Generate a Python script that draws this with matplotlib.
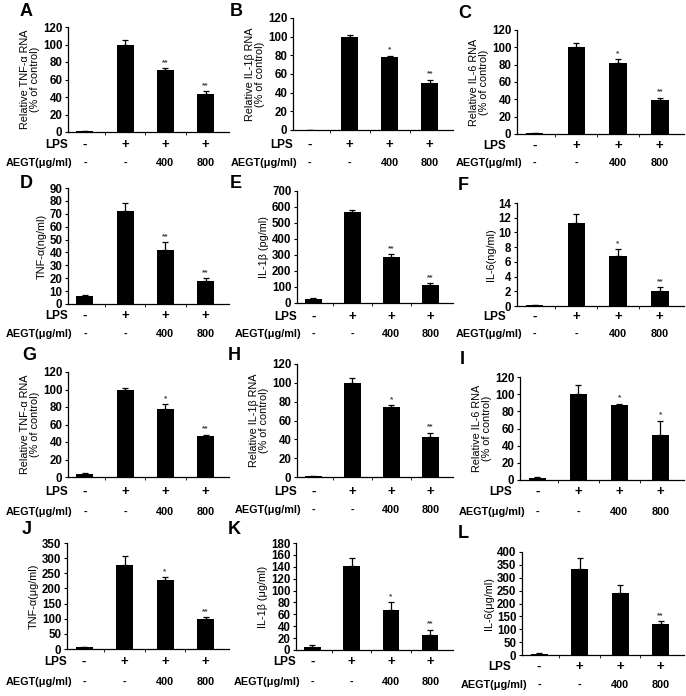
import numpy as np
import matplotlib.pyplot as plt
import matplotlib.transforms as mtransforms

plt.rcParams['font.family'] = ['Liberation Sans', 'DejaVu Sans']
plt.rcParams['font.weight'] = 'bold'

W, H = 686, 696

# data per panel: values, upper error, significance marks
letters = ['A', 'B', 'C', 'D', 'E', 'F', 'G', 'H', 'I', 'J', 'K', 'L']
values = [
    [1, 100, 71, 43],
    [0.5, 100, 78, 50],
    [1, 100, 82, 39],
    [6, 72, 42, 18],
    [22, 570, 285, 110],
    [0.1, 11.3, 6.8, 2.1],
    [3, 100, 78, 47],
    [1, 100, 74, 43],
    [2, 100, 87, 53],
    [5, 278, 228, 98],
    [5, 142, 68, 26],
    [5, 333, 242, 122],
]
errors = [
    [0, 5, 2, 4],
    [0, 2, 1.5, 4],
    [0, 5, 4, 3],
    [1, 6, 6, 2],
    [8, 10, 20, 15],
    [0.05, 1.2, 0.9, 0.5],
    [2, 2, 5, 1.5],
    [0.5, 5, 2, 4],
    [1, 11, 2, 16],
    [3, 28, 10, 8],
    [3, 13, 12, 8],
    [1, 45, 28, 10],
]
stars = [
    ['', '', '**', '**'],
    ['', '', '*', '**'],
    ['', '', '*', '**'],
    ['', '', '**', '**'],
    ['', '', '**', '**'],
    ['', '', '*', '**'],
    ['', '', '*', '**'],
    ['', '', '*', '**'],
    ['', '', '*', '*'],
    ['', '', '*', '**'],
    ['', '', '*', '**'],
    ['', '', '', '**'],
]
ymax = [120, 120, 120, 90, 700, 14, 120, 120, 120, 350, 180, 400]
ystep = [20, 20, 20, 10, 100, 2, 20, 20, 20, 50, 20, 50]
ylabels = [
    'Relative TNF-α RNA\n(% of control)',
    'Relative IL-1β RNA\n(% of control)',
    'Relative IL-6 RNA\n(% of control)',
    'TNF-α(ng/ml)',
    'IL-1β (pg/ml)',
    'IL-6(ng/ml)',
    'Relative TNF-α RNA\n(% of control)',
    'Relative IL-1β RNA\n(% of control)',
    'Relative IL-6 RNA\n(% of control)',
    'TNF-α(μg/ml)',
    'IL-1β (μg/ml)',
    'IL-6(μg/ml)',
]
lps = ['-', '+', '+', '+']
aegt = ['-', '-', '400', '800']

# layout in pixels: left, right, top (ymax), bottom (y=0), LPS row y, AEGT row y,
# letter x, letter y, LPS label shift left
boxes = [
    (68, 229, 27, 132, 145, 163, 20, 12, 0),
    (293, 453, 18, 130, 145, 163, 230, 12, 0),
    (517, 684, 30, 134, 146, 163, 458, 13, 11),
    (68, 229, 188, 304, 316, 334, 20, 183, 0),
    (297, 453, 191, 303, 317, 334, 230, 183, 0),
    (517, 684, 203, 306, 317, 334, 458, 185, 11),
    (68, 229, 372, 477, 492, 512, 22, 355, 0),
    (297, 453, 364, 477, 492, 510, 228, 355, 0),
    (520, 684, 377, 480, 492, 512, 460, 360, 8),
    (67, 229, 543, 649, 662, 682, 22, 530, 0),
    (296, 453, 543, 650, 662, 682, 228, 530, 0),
    (522, 684, 552, 655, 667, 685, 458, 533, 11),
]

fig = plt.figure(figsize=(W / 100, H / 100), dpi=100)
x = np.arange(4)

for i in range(12):
    l, r, t, b, ylps, yaegt, lx, ly, shift = boxes[i]
    ax = fig.add_axes([l / W, 1 - b / H, (r - l) / W, (b - t) / H])
    v = values[i]
    e = errors[i]
    ax.bar(x, v, width=0.42, color='black')
    ax.errorbar(x, v, yerr=[np.zeros(4), e], fmt='none', ecolor='black',
                elinewidth=0.9, capsize=2, capthick=0.9)
    for j in range(4):
        if stars[i][j]:
            ax.text(x[j], v[j] + e[j] + ymax[i] * 0.02, stars[i][j], ha='center',
                    va='bottom', fontsize=6, color='#444444')
    ax.set_xlim(-0.42, 3.58)
    ax.set_ylim(0, ymax[i])
    ax.set_yticks(np.arange(0, ymax[i] + ystep[i] / 2, ystep[i]))
    ax.set_xticks([])
    ax.set_xticks([0.5, 1.5, 2.5], minor=True)
    ax.tick_params(axis='y', direction='out', length=2.5, width=0.8, labelsize=8.3, pad=1.5)
    ax.tick_params(axis='x', which='minor', direction='out', length=2, width=0.6)
    for s in ['top', 'right']:
        ax.spines[s].set_visible(False)
    for s in ['left', 'bottom']:
        ax.spines[s].set_linewidth(0.9)
    ax.set_ylabel(ylabels[i], fontsize=7.8, labelpad=2, linespacing=1.0)

    trans = mtransforms.blended_transform_factory(ax.transData, fig.transFigure)
    lps_x = -0.42 - shift * 4.0 / (r - l)
    ax.text(lps_x, 1 - ylps / H, 'LPS', transform=trans, ha='right', va='center', fontsize=8.5)
    ax.text(-0.3, 1 - yaegt / H, 'AEGT(μg/ml)', transform=trans, ha='right', va='center', fontsize=7.8)
    for j in range(4):
        ax.text(x[j], 1 - ylps / H, lps[j], transform=trans, ha='center', va='center', fontsize=9.5)
        ax.text(x[j], 1 - yaegt / H, aegt[j], transform=trans, ha='center', va='center', fontsize=7.8)

    fig.text(lx / W, 1 - ly / H, letters[i], ha='left', va='center', fontsize=13, fontweight='bold')

fig.savefig('out.png', dpi=100)
